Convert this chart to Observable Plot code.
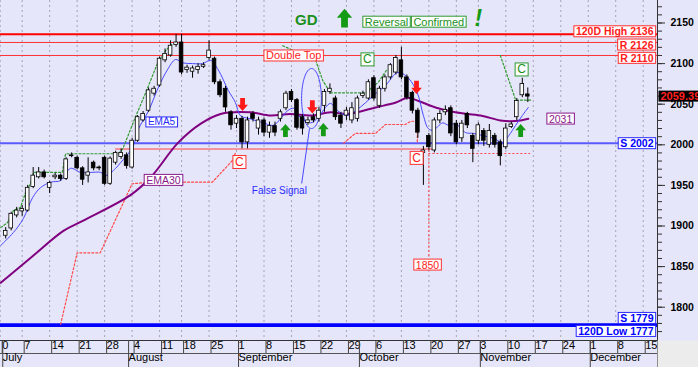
<!DOCTYPE html>
<html><head><meta charset="utf-8">
<script src="https://cdn.jsdelivr.net/npm/d3@7"></script>
<script src="https://cdn.jsdelivr.net/npm/@observablehq/plot@0.6"></script>
<style>
html,body{margin:0;padding:0;background:#e6e6fa;overflow:hidden;}
#chart svg{display:block;overflow:hidden;}
</style></head><body><div id="chart"></div>
<script>
// ---- candles (trading-day index k = 0 is 1 July) ----
const opens = [1888,1897,1913,1918,1919,1948,1960,1966,1947,1960,
1962,1958,1986,1984,1971,1962,1978,1972,1984,1952,
1978,1985,1987,1972,2005,2030,2042,2063,2073,2104,
2110,2123,2126,2092,2090,2092,2096,2107,2106,2077,
2069,2040,2026,2032,2003,2038,2020,2030,2015,2023,
2032,2045,2065,2055,2034,2027,2034,2032,2048,2065,
2057,2036,2036,2030,2032,2060,2057,2082,2048,2069,
2083,2089,2104,2083,2064,2042,1990,2011,1993,2030,
2040,2045,2026,2008,2038,2011,2005,2017,2000,2011,
2003,1997,2022,2034,2061,2062];
const highs = [1898,1917,1923,1925,1950,1972,1972,1969,1955,1965,
1964,1984,1990,1986,1973,1984,1980,1974,1986,1985,
1992,1995,1990,2008,2036,2041,2070,2072,2108,2118,
2128,2136,2136,2098,2097,2100,2101,2128,2108,2080,
2072,2042,2036,2035,2034,2041,2034,2033,2028,2028,
2043,2066,2068,2057,2037,2034,2038,2046,2068,2075,
2060,2040,2046,2052,2060,2066,2080,2085,2072,2086,
2100,2110,2120,2086,2066,2045,1998,2014,2033,2042,
2048,2048,2030,2030,2040,2014,2027,2020,2025,2014,
2006,2026,2028,2057,2082,2070];
const lows = [1884,1894,1910,1912,1917,1946,1958,1958,1940,1957,
1955,1956,1984,1969,1950,1953,1968,1968,1950,1950,
1975,1982,1970,1970,2003,2028,2040,2060,2071,2101,
2108,2120,2086,2088,2082,2087,2094,2104,2074,2058,
2040,2018,2020,1995,1995,2028,2012,2010,2008,2010,
2028,2042,2052,2018,2012,2024,2027,2028,2040,2062,
2030,2020,2030,2026,2028,2057,2055,2054,2045,2065,
2080,2086,2080,2055,2038,2008,1950,1993,1990,2026,
2036,2010,2000,2003,2020,1978,2000,1998,1996,1996,
1974,1994,2020,2030,2058,2052];
const closes = [1894,1915,1919,1921,1947,1962,1966,1960,1953,1962,
1958,1982,1987,1971,1957,1966,1971,1971,1952,1983,
1990,1990,1974,2005,2034,2038,2067,2069,2106,2112,
2122,2126,2089,2095,2094,2096,2098,2116,2077,2061,
2046,2024,2032,2003,2030,2032,2030,2015,2023,2015,
2040,2063,2055,2021,2020,2030,2030,2042,2065,2069,
2034,2026,2042,2045,2057,2063,2077,2057,2069,2083,
2098,2107,2083,2058,2042,2015,1993,1997,2030,2038,
2043,2014,2003,2026,2024,1995,2024,2005,2017,2000,
1986,2020,2025,2054,2075,2059.39];

// ---- moving averages ----
const ema5K = [-0.9,1.4,3.2,4.9,6.3,8.2,10,11.8,13.6,15.4,17.3,18.2,20,20.9,23.1,24.2,26,27.8,29.4,30.9,32.2,34,35.8,37.3,38.7,40.5,41.8,42.7,44.5,46.9,48.7,50,51.3,52.4,53.6,55.5,56.9,58.2,59.1,60.4,62.2,63.7,65.5,67.3,69.1,71,71.8,73.3,74.9,76,76.9,77.8,79.5,80.6,81.8,83.7,85.1,87,88.8,90.4,91.5,92.8,94,95.1];
const ema5V = [1876,1892,1909,1935,1947,1954,1956,1971,1966,1966,1966,1962,1971,1978,1997,2020,2042,2071,2092,2105,2101,2100,2100,2104,2092,2067,2052,2036,2032,2027,2024,2032,2042,2045,2034,2027,2034,2046,2051,2042,2036,2042,2052,2063,2073,2088,2089,2082,2064,2036,2020,2018,2027,2024,2026,2015,2014,2011,2008,2003,2011,2024,2036,2046];
const ema30K = [-0.9,5.1,10.5,14.2,22.7,26.4,31.3,35.5,39.1,44.5,48.2,51.8,55.5,59.1,62.2,67.3,71,73.1,75.1,78.2,81.8,86.4,90,91.9,93.7,95.1];
const ema30V = [1830,1864,1894,1907,1938,1960,2002,2026,2038,2040,2036,2038,2036,2040,2038,2046,2052,2058,2054,2046,2040,2036,2030,2029,2030,2032];

// ---- horizontal levels ----
const levelValues = [2136, 2126, 2110, 2002, 1779, 1777];
const levelLabels = ["120D High 2136", "R 2126", "R 2110", "S 2002", "S 1779", "120D Low 1777"];
const levelLabelY = [2139, 2122.7, 2106.3, 2001.2, 1786, 1770];

// ---- dotted guide lines (k, price) ----
const greenDot1K = [-0.9,0.3,1.4,2.7,3.6,4.5,5.1,10.3,10.9,20.5,21.3,23.6,25.4,27.6,29.1,30.4];
const greenDot1P = [1898,1904,1919,1923,1941,1952,1966,1966,1989,1989,1995,2034,2063,2100,2116,2125];
const greenDot2K = [50.4,56.4,57.7,59.1,65.5,67.8,69.3];
const greenDot2P = [2122,2104,2079,2064,2064,2077,2092];
const greenDot3K = [90.0,92.8,95.5];
const greenDot3P = [2110,2055,2055];
const redDot1K = [10,13,17.2,23,26.3,37.6,41.3,41.8];
const redDot1P = [1779,1867,1867,1952,1954,1954,1981,1990];
const redDot2K = [61.5,63.6,67.3,69.1,72.7,73.7,74.9,74.9];
const redDot2P = [2002,2014,2014,2025,2025,2029,2029,2002];
const redSupport = {v: 1994.8, k1: 20, k2: 77.7};
const redDotFloor = {v: 1989.3, k1: 77, k2: 95.5};
const redDotDrop = {k: 77, p1: 1993, p2: 1860};

// ---- annotations ----
const downArrowK = [43.1, 55.8, 74.75], downArrowP = [2049.6, 2046.6, 2070.6];
const upArrowK = [50.9, 57.8, 93.7], upArrowP = [2017.6, 2018.8, 2017.6];
const bigArrow = {k: 61.65, p: 2156};
const gdText = {t: "GD", k: 54.7, p: 2153};
const bangText = {t: "!", k: 86.0, p: 2155.5};
const greenBoxT = ["Reversal", "Confirmed"], greenBoxK = [69.3, 78.8], greenBoxP = [2151, 2151];
const greenCK = [65.8, 93.85], greenCP = [2105, 2092.6];
const redCK = [42.5, 74.75], redCP = [1978.6, 1983.7];
const doubleTop = {t: "Double Top", k: 52.4, p: 2109.4};
const label1850 = {t: "1850", k: 76.75, p: 1851.7};
const ema5Label = {t: "EMA5", k: 28.35, p: 2027.8};
const ema30Label = {t: "EMA30", k: 28.7, p: 1956};
const ema30Last = {t: "2031", k: 100.96, p: 2031.5};
const falseSignal = {t: "False Signal", k: 49.8, p: 1943.7};
const ellipseAt = {k: 55.64, p: 2057};
const pointer = {k1: 55.28, p1: 2020, k2: 53.86, p2: 1952.4};

// ---- axis ticks ----
const weekTickK = [-1,3,8,13,18,23,28,32,37,42,47,52,57,62,67,72,77,82,86,91,96,101,106,111,116];
const weekTickLabels = ["0","7","14","21","28","4","11","18","25","1","8","15","22","29","6","13","20","27","3","10","17","24","1","8","15"];
const monthTickK = [-0.9, 22, 42, 64, 86, 106];
const monthLabels = ["July","August","September","October","November","December"];
const yMajorTicks = [1800,1850,1900,1950,2000,2050,2100,2150];
const yMinorTicks = d3.range(1770, 2171, 10);

const X_DOMAIN = [-0.946, 118.6];
const Y_DOMAIN = [1759, 2177.7];

const candles = opens.map((o, i) => ({k: i, o, h: highs[i], l: lows[i], c: closes[i]}));
const upC = candles.filter(d => d.c >= d.o), downC = candles.filter(d => d.c < d.o);
const weekMap = new Map(weekTickK.map((k, i) => [k, weekTickLabels[i]]));
const monthMap = new Map(monthTickK.map((k, i) => [k, monthLabels[i]]));
const pts = (ks, vs) => ks.map((k, i) => ({k, v: vs[i]}));
const levels = levelLabels.map((t, i) => ({t, y: levelLabelY[i], v: levelValues[i]}));

const arrowUp = {draw(ctx, size) {
  const r = Math.sqrt(size / Math.PI);
  const p = [[0,-1.1],[0.9,-0.05],[0.4,-0.05],[0.4,1.1],[-0.4,1.1],[-0.4,-0.05],[-0.9,-0.05]];
  ctx.moveTo(p[0][0]*r, p[0][1]*r); for (const [a,b] of p.slice(1)) ctx.lineTo(a*r, b*r); ctx.closePath();
}};
const arrowDown = {draw(ctx, size) {
  const r = Math.sqrt(size / Math.PI);
  const p = [[0,1.1],[0.9,0.05],[0.4,0.05],[0.4,-1.1],[-0.4,-1.1],[-0.4,0.05],[-0.9,0.05]];
  ctx.moveTo(p[0][0]*r, p[0][1]*r); for (const [a,b] of p.slice(1)) ctx.lineTo(a*r, b*r); ctx.closePath();
}};
const ellipseSym = {draw(ctx, size) {
  const ry = Math.sqrt(size / Math.PI), rx = ry * 0.33, q = 0.5523;
  ctx.moveTo(rx, 0);
  ctx.bezierCurveTo(rx, ry*q, rx*q, ry, 0, ry);
  ctx.bezierCurveTo(-rx*q, ry, -rx, ry*q, -rx, 0);
  ctx.bezierCurveTo(-rx, -ry*q, -rx*q, -ry, 0, -ry);
  ctx.bezierCurveTo(rx*q, -ry, rx, -ry*q, rx, 0);
  ctx.closePath();
}};

const RED = "#ff1a1a", GREEN = "#1c8f1c", BLUE = "#2b2bff", PURPLE = "#8a1a8a";
const FONT = "'Liberation Sans', Arial, sans-serif";
const tag = name => ({ariaLabel: () => name});

const svgEl = Plot.plot({
  width: 698, height: 367,
  marginLeft: 0, marginRight: 41, marginTop: 0, marginBottom: 27,
  style: {background: "#e6e6fa", fontFamily: FONT, fontSize: "11px", overflow: "hidden"},
  x: {domain: X_DOMAIN},
  y: {domain: Y_DOMAIN},
  marks: [
    Plot.ruleX(weekTickK, {stroke: "#a4a4b4", strokeDasharray: "2,3"}),
    // levels
    Plot.ruleY([levelValues[0]], {stroke: "#ff0000", strokeWidth: 2}),
    Plot.ruleY([levelValues[1], levelValues[2]], {stroke: "#ff3030", strokeWidth: 1}),
    Plot.ruleY([levelValues[3]], {stroke: "#5a5aff", strokeWidth: 2}),
    Plot.ruleY([levelValues[4], levelValues[5]], {stroke: "#0000ff", strokeWidth: 2}),
    Plot.ruleY([redSupport], {y: "v", x1: "k1", x2: "k2", stroke: "#ff4040", strokeWidth: 1}),
    Plot.ruleY([redDotFloor], {y: "v", x1: "k1", x2: "k2", stroke: "#ff4040", strokeDasharray: "2,2"}),
    Plot.ruleX([redDotDrop], {x: "k", y1: "p1", y2: "p2", stroke: "#ff4040", strokeDasharray: "2,2"}),
    // dotted guides
    Plot.line(pts(greenDot1K, greenDot1P), {x: "k", y: "v", stroke: "#2f9a2f", strokeWidth: 1.2, strokeDasharray: "2,2"}),
    Plot.line(pts(greenDot2K, greenDot2P), {x: "k", y: "v", stroke: "#2f9a2f", strokeWidth: 1.2, strokeDasharray: "2,2"}),
    Plot.line(pts(greenDot3K, greenDot3P), {x: "k", y: "v", stroke: "#2f9a2f", strokeWidth: 1.2, strokeDasharray: "2,2"}),
    Plot.line(pts(redDot1K, redDot1P), {x: "k", y: "v", stroke: "#ff4a4a", strokeWidth: 1.2, strokeDasharray: "2,2"}),
    Plot.line(pts(redDot2K, redDot2P), {x: "k", y: "v", stroke: "#ff4a4a", strokeWidth: 1.2, strokeDasharray: "2,2"}),
    // moving averages
    Plot.line(pts(ema30K, ema30V), {x: "k", y: "v", stroke: "#800080", strokeWidth: 2, curve: "catmull-rom"}),
    Plot.line(pts(ema5K, ema5V), {x: "k", y: "v", stroke: "#4848ff", strokeWidth: 1, curve: "catmull-rom"}),
    // false signal annotation
    Plot.dot([ellipseAt], {x: "k", y: "p", symbol: ellipseSym, r: 30, fill: "none", stroke: "#4848ff", strokeWidth: 1}),
    Plot.link([pointer], {x1: "k1", y1: "p1", x2: "k2", y2: "p2", stroke: "#4848ff", strokeWidth: 1}),
    // candles
    Plot.ruleX(candles, {x: "k", y1: "l", y2: "h", stroke: "#000", strokeWidth: 1}),
    Plot.rect(upC, {x1: d => d.k - 0.33, x2: d => d.k + 0.33, y1: "o", y2: "c", fill: "#fff", stroke: "#000", strokeWidth: 0.8}),
    Plot.rect(downC, {x1: d => d.k - 0.33, x2: d => d.k + 0.33, y1: "o", y2: "c", fill: "#000", stroke: "#000", strokeWidth: 0.8}),
    // arrows
    Plot.dot(pts(downArrowK, downArrowP), {x: "k", y: "v", symbol: arrowDown, r: 6, fill: RED, stroke: "none"}),
    Plot.dot(pts(upArrowK, upArrowP), {x: "k", y: "v", symbol: arrowUp, r: 6, fill: "#159a15", stroke: "none"}),
    Plot.dot([bigArrow], {x: "k", y: "p", symbol: arrowUp, r: 8.5, fill: "#159a15", stroke: "none"}),
    // texts
    Plot.text([gdText], {x: "k", y: "p", text: "t", fill: GREEN, fontSize: 15, fontWeight: "bold"}),
    Plot.text([bangText], {x: "k", y: "p", text: "t", fill: "#159a15", fontSize: 23, fontWeight: "bold", fontStyle: "italic"}),
    Plot.text(greenBoxT, {x: (d, i) => greenBoxK[i], y: (d, i) => greenBoxP[i], text: d => d, fill: GREEN, fontSize: 11, ...tag("box-green")}),
    Plot.text(greenCK, {x: d => d, y: (d, i) => greenCP[i], text: () => "C", fill: GREEN, fontSize: 12, ...tag("box-green")}),
    Plot.text(redCK, {x: d => d, y: (d, i) => redCP[i], text: () => "C", fill: RED, fontSize: 12, ...tag("box-red")}),
    Plot.text([doubleTop], {x: "k", y: "p", text: "t", fill: RED, fontSize: 11, ...tag("box-red")}),
    Plot.text([label1850], {x: "k", y: "p", text: "t", fill: RED, fontSize: 10.5, ...tag("box-red")}),
    Plot.text([ema5Label], {x: "k", y: "p", text: "t", fill: BLUE, fontSize: 10, ...tag("box-blue")}),
    Plot.text([ema30Label, ema30Last], {x: "k", y: "p", text: "t", fill: PURPLE, fontSize: 10.5, ...tag("box-purple")}),
    Plot.text([falseSignal], {x: "k", y: "p", text: "t", fill: BLUE, fontSize: 10}),
    Plot.text(levels.slice(0, 3), {y: "y", text: "t", frameAnchor: "right", dx: -4, textAnchor: "end", fill: RED, fontSize: 10.5, fontWeight: "bold", ...tag("box-red")}),
    Plot.text(levels.slice(3), {y: "y", text: "t", frameAnchor: "right", dx: -4, textAnchor: "end", fill: "#0000ff", fontSize: 10.5, fontWeight: "bold", ...tag("box-blue")}),
    // axes
    Plot.ruleX([X_DOMAIN[1]], {stroke: "#333"}),
    Plot.ruleX([X_DOMAIN[1]], {stroke: "#333", dy: 27}),
    Plot.ruleY([Y_DOMAIN[0]], {stroke: "#333"}),
    Plot.ruleY([Y_DOMAIN[0]], {stroke: "#555", dy: 13}),
    Plot.axisY({anchor: "right", ticks: yMinorTicks, tickSize: 4, tickFormat: () => "", label: null, stroke: "#333"}),
    Plot.axisY({anchor: "right", ticks: yMajorTicks, tickSize: 7, tickPadding: 6, tickFormat: "d", label: null, fontWeight: "bold", fontSize: 10.5, stroke: "#333"}),
    Plot.axisX({ticks: weekTickK, tickFormat: d => weekMap.get(d), tickSize: 13, tickPadding: -12, textAnchor: "start", dx: 2, fontSize: 11, label: null, stroke: "#444"}),
    Plot.axisX({ticks: monthTickK, tickFormat: d => monthMap.get(d), tickSize: 27, tickPadding: -14, textAnchor: "start", dx: 2, fontSize: 11, label: null, stroke: "#444"}),
    // last price
    Plot.text([closes[closes.length - 1]], {y: d => d, text: d => d.toFixed(2), frameAnchor: "right", dx: 3, textAnchor: "start", fill: "#ff2020", fontSize: 11, fontWeight: "bold", ...tag("box-black")})
  ]
});
document.getElementById("chart").appendChild(svgEl);

function boxify(label, fill, stroke, padX, padY) {
  svgEl.querySelectorAll(`text[aria-label="${label}"]`).forEach(t => {
    const b = t.getBBox();
    const r = document.createElementNS("http://www.w3.org/2000/svg", "rect");
    r.setAttribute("x", b.x - padX); r.setAttribute("y", b.y - padY);
    r.setAttribute("width", b.width + 2 * padX); r.setAttribute("height", b.height + 2 * padY);
    r.setAttribute("fill", fill); r.setAttribute("stroke", stroke); r.setAttribute("stroke-width", 1);
    const tr = t.getAttribute("transform"); if (tr) r.setAttribute("transform", tr);
    t.parentNode.insertBefore(r, t);
  });
}
boxify("box-red", "#ffffff", "#ff3030", 2, -0.5);
boxify("box-green", "#ffffff", "#2f9a2f", 2, -0.5);
boxify("box-blue", "#ffffff", "#2b2bff", 2, -0.5);
boxify("box-purple", "#ffffff", "#8a1a8a", 2, -0.5);
boxify("box-black", "#000000", "none", 2, -0.5);

// grey corner under the right axis
const xr = svgEl.scale("x").apply(X_DOMAIN[1]);
const yb = svgEl.scale("y").apply(Y_DOMAIN[0]);
d3.select(svgEl).append("rect").attr("x", xr + 0.5).attr("y", yb + 0.5)
  .attr("width", 698 - xr).attr("height", 367 - yb).attr("fill", "#ececec");
</script></body></html>
